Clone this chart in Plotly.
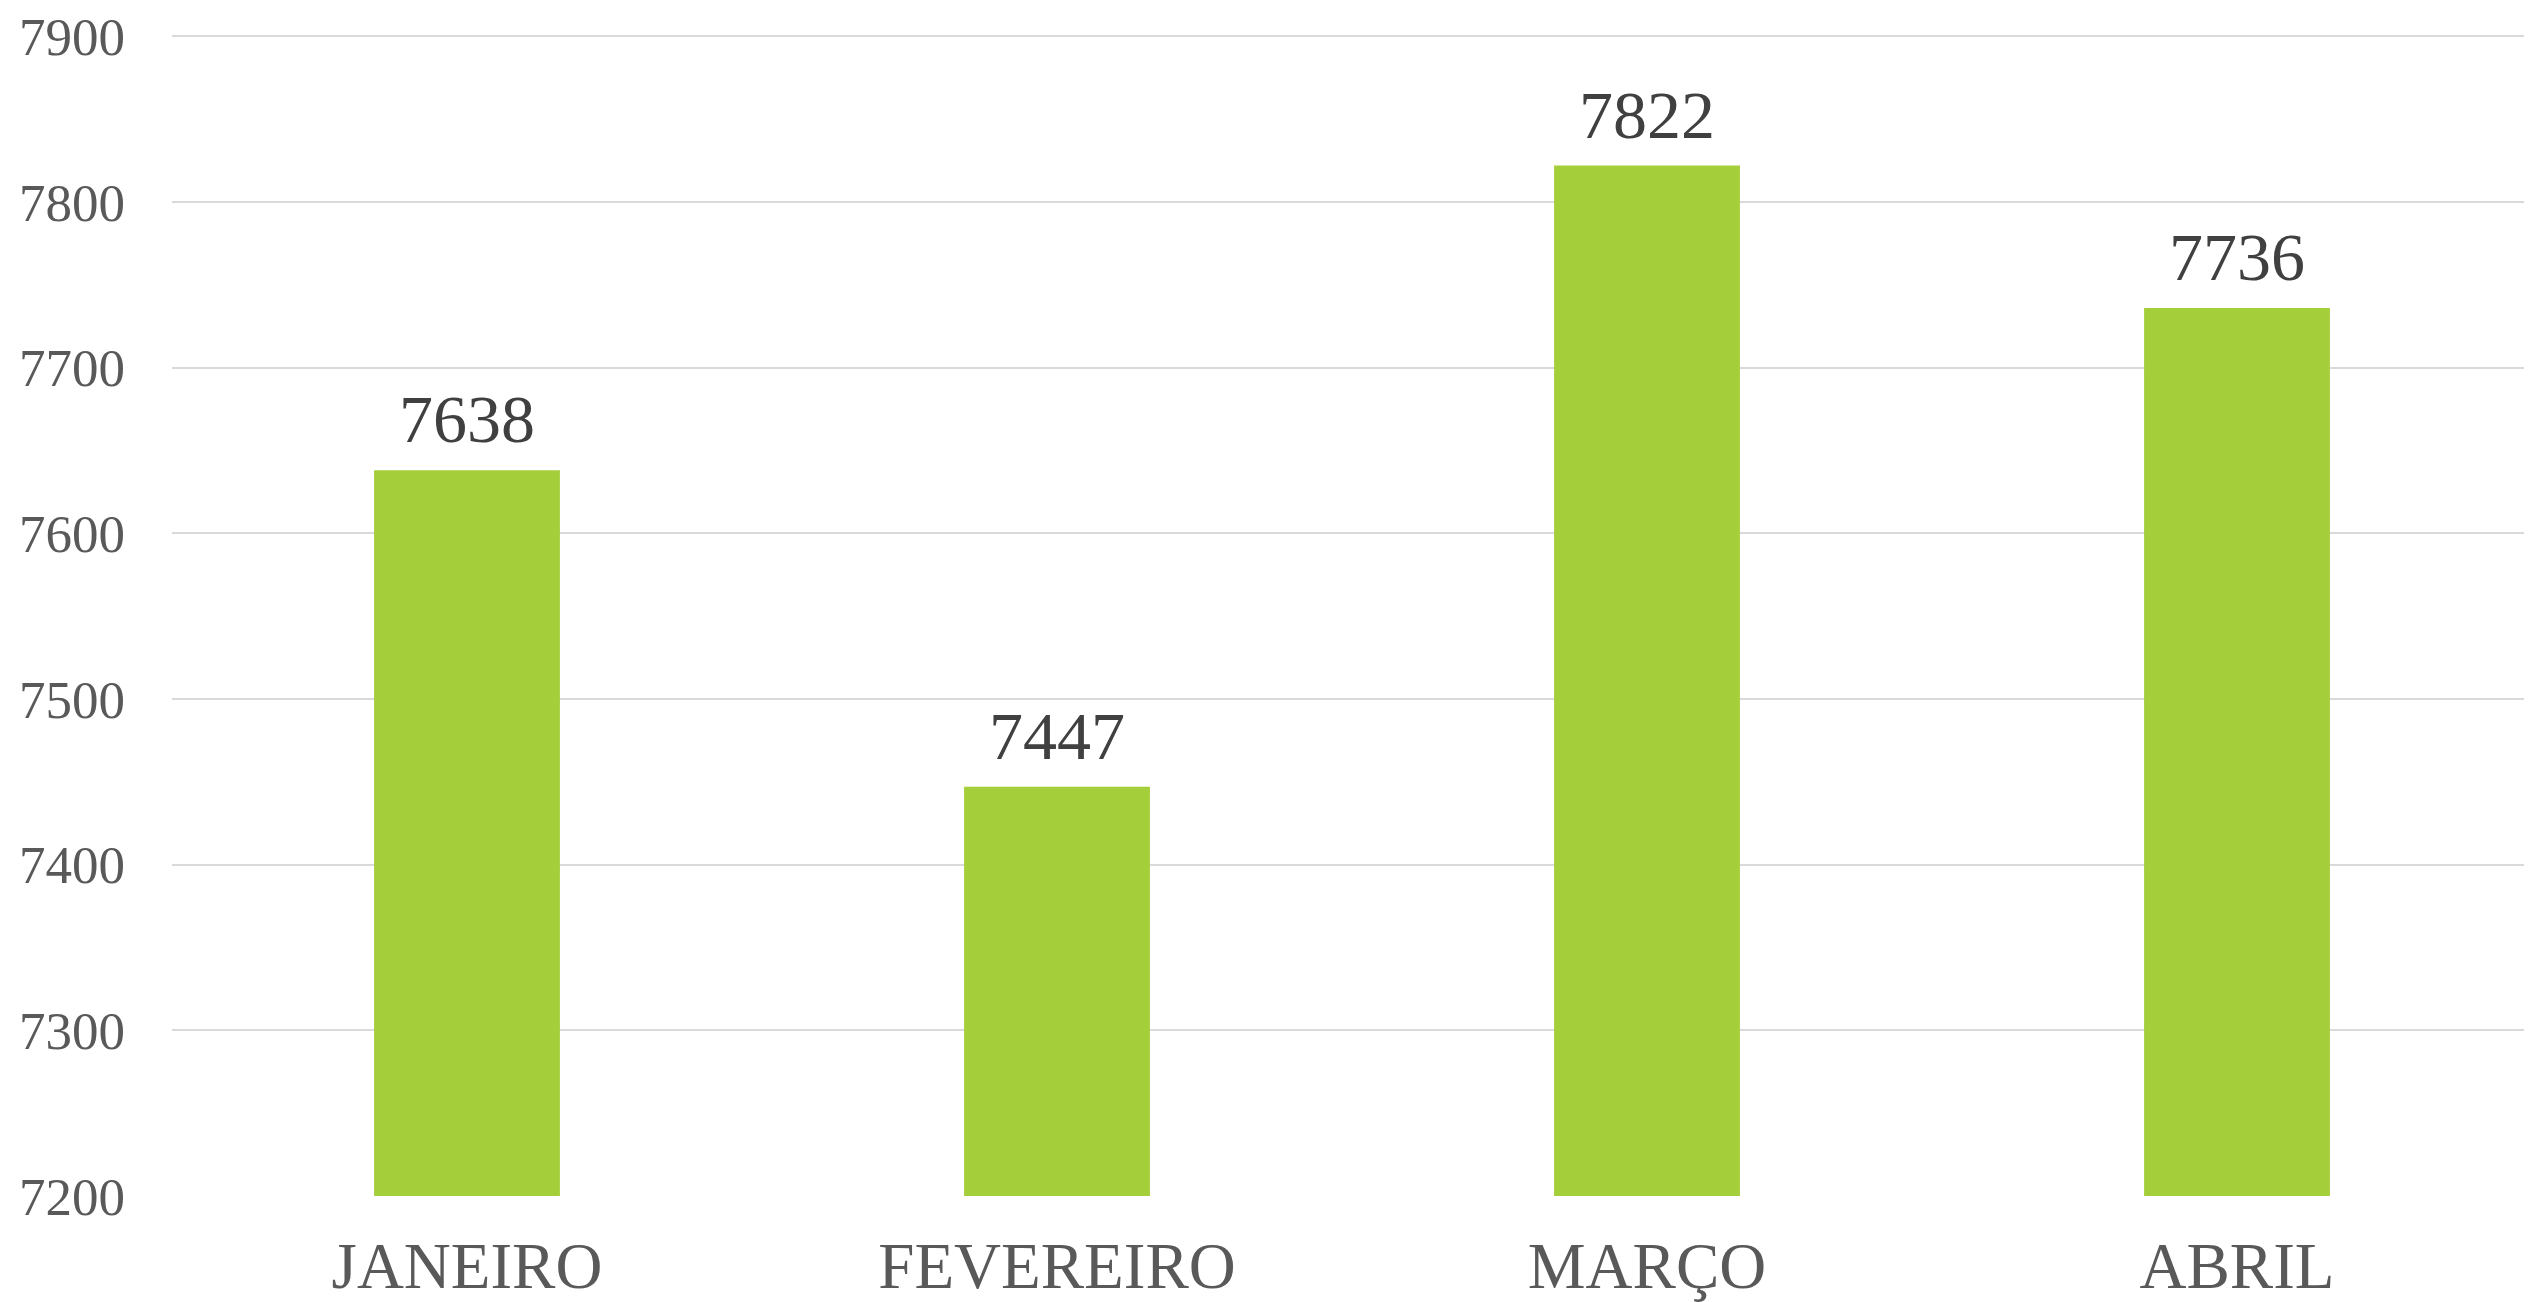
import plotly.graph_objects as go

categories = ["JANEIRO", "FEVEREIRO", "MARÇO", "ABRIL"]
values = [7638, 7447, 7822, 7736]
y_ticks = [7200, 7300, 7400, 7500, 7600, 7700, 7800, 7900]
y_range = [7200, 7902]

BAR_COLOR = "#A5CE3B"
FONT = "Liberation Serif"

fig = go.Figure()
fig.add_trace(go.Bar(
    x=categories, y=values,
    marker=dict(color=BAR_COLOR, line=dict(width=0)),
    hoverinfo="skip",
))

for c, v in zip(categories, values):
    fig.add_annotation(
        x=c, y=v, text=str(v), showarrow=False,
        yanchor="bottom", yshift=11,
        font=dict(family=FONT, size=68, color="#404040"),
    )

# page body has an 8px default margin, so the figure is slightly smaller
fig.update_layout(
    width=2524, height=1294,
    margin=dict(l=164, r=0, t=23, b=106),
    paper_bgcolor="white", plot_bgcolor="white",
    bargap=0.685,
    showlegend=False,
    font=dict(family=FONT),
)
fig.update_xaxes(
    showgrid=False, zeroline=False, showline=False,
    tickfont=dict(family=FONT, size=65, color="#595959"),
    ticklabelstandoff=26,
    ticklabeloverflow="allow",
)
fig.update_yaxes(
    range=y_range, tickvals=y_ticks,
    showgrid=True, gridcolor="#D9D9D9", gridwidth=2,
    zeroline=False, showline=False,
    tickfont=dict(family=FONT, size=53, color="#595959"),
    ticklabelstandoff=46,
    ticklabeloverflow="allow",
)

fig.write_html("out.html")
